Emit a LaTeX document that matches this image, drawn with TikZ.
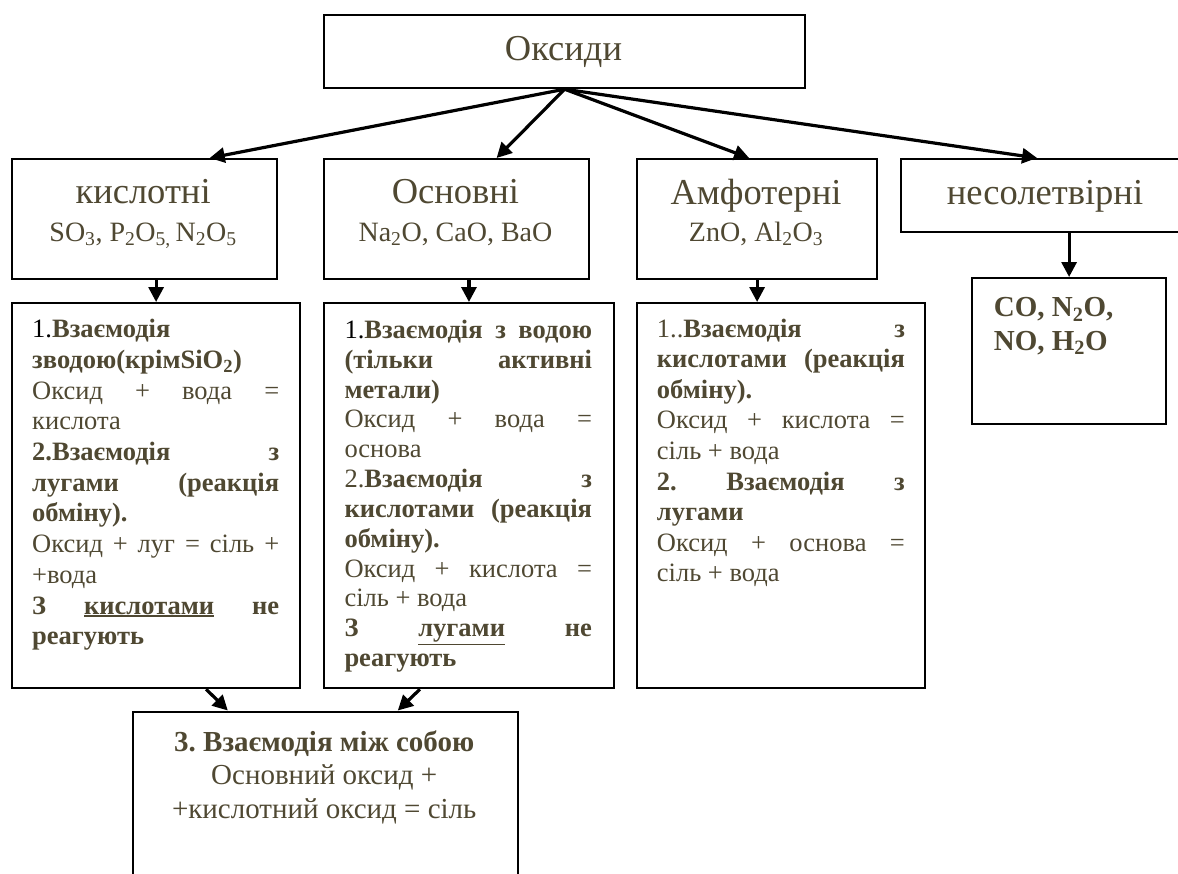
\documentclass[tikz,border=0pt]{standalone}
\usepackage{fontspec}
\setmainfont{Liberation Serif}
\usetikzlibrary{arrows.meta}
\definecolor{txt}{RGB}{79,72,50}
\frenchspacing
\newcommand\jline[1]{\hbox to\hsize{\spaceskip=.25em plus 1fill\relax #1}}
\newcommand\fline[1]{\hbox to\hsize{#1\hfil}}
\newcommand\ctrline[1]{\hbox to\hsize{\hfil #1\hfil}}
\newcommand\detailbox[2]{\vtop{\hsize=#1\relax #2}}
\newcommand\thickul[1]{\vtop{\hbox{#1}\kern1.2pt\hrule height 1.7pt}}
\begin{document}
\begin{tikzpicture}[x=1pt,y=-1pt,
  box/.style={draw=black, line width=2.2pt, rectangle, inner sep=0pt, anchor=north west},
  conn/.style={line width=3.2pt, -{Triangle[length=15pt,width=15pt]}},
  head/.style={text=txt, font=\fontsize{36.5}{40}\selectfont, anchor=base, inner sep=0pt},
  formula/.style={text=txt, font=\fontsize{28}{32}\selectfont, anchor=base, inner sep=0pt},
  detail/.style={text=txt, inner sep=0pt, anchor=base west},
]
\clip (0,0) rectangle (1178,873);
\fill[white] (0,0) rectangle (1178,873);

% boxes
\node[box, minimum width=481pt, minimum height=73pt] (ox) at (323,14) {};
\node[box, minimum width=264.8pt, minimum height=120pt] (k) at (10.7,158) {};
\node[box, minimum width=265pt, minimum height=120pt] (o) at (323,158) {};
\node[box, minimum width=240pt, minimum height=120pt] (a) at (636,158) {};
\node[box, minimum width=290pt, minimum height=72.7pt] (n) at (900,158) {};
\node[box, minimum width=288pt, minimum height=385pt] (kd) at (11,302) {};
\node[box, minimum width=289.7pt, minimum height=385pt] (od) at (323,302) {};
\node[box, minimum width=288pt, minimum height=385pt] (ad) at (636,302) {};
\node[box, minimum width=194pt, minimum height=146pt] (co) at (971,277) {};
\node[box, minimum width=385pt, minimum height=200pt] (bt) at (131.7,710.5) {};

% headings
\node[head] (oxt) at (563.5,60) {Оксиди};
\node[head] (kt) at (143.1,203.5) {кислотні};
\node[formula] (kf) at (143.1,241) {SO\textsubscript{3}, P\textsubscript{2}O\textsubscript{5, }N\textsubscript{2}O\textsubscript{5}};
\node[head] (ot) at (455.5,203.5) {Основні};
\node[formula] (of) at (455.5,241) {Na\textsubscript{2}O, CaO, BaO};
\node[head] (at) at (756,204) {Амфотерні};
\node[formula] (af) at (756,241) {ZnO, Al\textsubscript{2}O\textsubscript{3}};
\node[head] (nt) at (1045,204) {несолетвірні};

% details
\node[detail, font=\fontsize{26.5}{30.7}\selectfont] (kdt) at (32,337.7) {\detailbox{247pt}{%
\fline{\textcolor{black}{1.}\textbf{Взаємодія}}
\fline{\textbf{зводою(крімSiO\textsubscript{2})}}
\jline{Оксид + вода =}
\fline{кислота}
\jline{\textbf{2.Взаємодія з}}
\jline{\textbf{лугами (реакція}}
\fline{\textbf{обміну).}}
\jline{Оксид + луг = сіль +}
\fline{+вода}
\jline{\textbf{З \thickul{кислотами} не}}
\fline{\textbf{реагують}}}};

\node[detail, font=\fontsize{26.5}{29.85}\selectfont] (odt) at (344.3,338.3) {\detailbox{247.5pt}{%
\jline{\textcolor{black}{1.}\textbf{Взаємодія з водою}}
\jline{\textbf{(тільки активні}}
\fline{\textbf{метали)}}
\jline{Оксид + вода =}
\fline{основа}
\jline{2.\textbf{Взаємодія з}}
\jline{\textbf{кислотами (реакція}}
\fline{\textbf{обміну).}}
\jline{Оксид + кислота =}
\fline{сіль + вода}
\jline{\textbf{З \thickul{лугами} не}}
\fline{\textbf{реагують}}}};

\node[detail, font=\fontsize{26.5}{30.6}\selectfont] (adt) at (656.7,337) {\detailbox{248pt}{%
\jline{1..\textbf{Взаємодія з}}
\jline{\textbf{кислотами (реакція}}
\fline{\textbf{обміну).}}
\jline{Оксид + кислота =}
\fline{сіль + вода}
\jline{\textbf{2. Взаємодія з}}
\fline{\textbf{лугами}}
\jline{Оксид + основа =}
\fline{сіль + вода}}};

\node[detail, font=\bfseries\fontsize{29}{33.3}\selectfont] (cot) at (993.7,316.7) {\detailbox{160pt}{%
\fline{CO, N\textsubscript{2}O,}
\fline{NO, H\textsubscript{2}O}}};

\node[detail, font=\fontsize{29}{33.5}\selectfont] (btt) at (144,751) {\detailbox{360pt}{%
\ctrline{\textbf{3. Взаємодія між собою}}
\ctrline{Основний оксид +}
\ctrline{+кислотний оксид = сіль}}};

% connectors
\draw[conn] (ox.south) -- ([xshift=65.5pt]k.north);
\draw[conn] (ox.south) -- ([xshift=40pt]o.north);
\draw[conn] (ox.south) -- ([xshift=-8pt]a.north);
\draw[conn] (ox.south) -- ([xshift=-9pt]n.north);
\draw[conn] (k.south -| kd.north) -- (kd.north);
\draw[conn] (o.south -| od.north) -- (od.north);
\draw[conn] (a.south) -- (a.south |- ad.north);
\draw[conn] (n.south -| co.north) -- (co.north);
\draw[conn] ([xshift=50pt]kd.south) -- ([xshift=-97.5pt]bt.north);
\draw[conn] ([xshift=-49pt]od.south) -- ([xshift=72.5pt]bt.north);
\end{tikzpicture}
\end{document}
